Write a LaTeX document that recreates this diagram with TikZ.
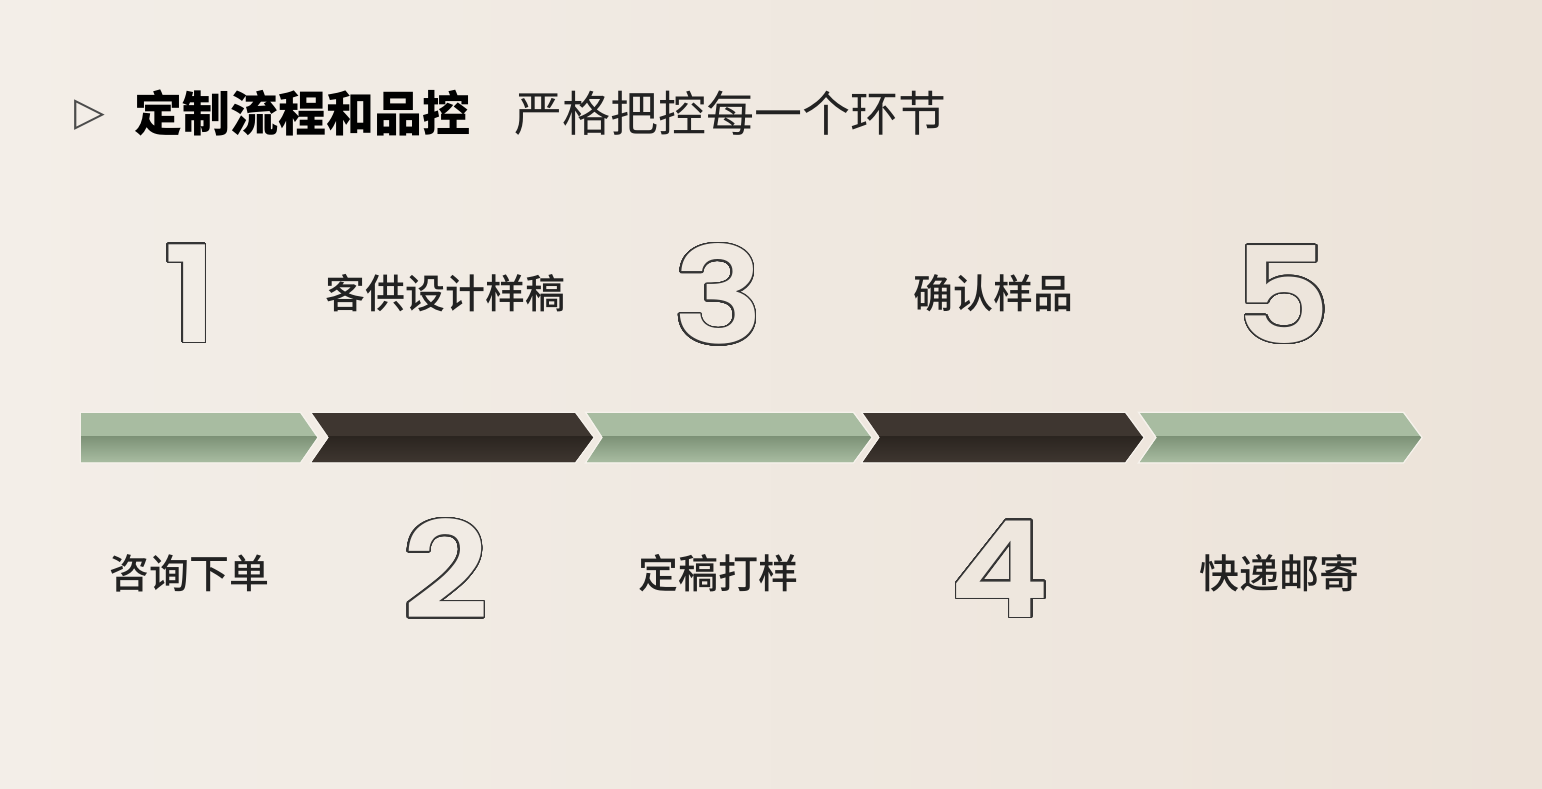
\documentclass[tikz,border=0pt]{standalone}
\usepackage{fontspec}
\usepackage[copies]{contour}
\contourlength{1.35pt}
\contournumber{48}
\newfontfamily\cjk{Noto Sans CJK SC}
\newfontfamily\cjkm{Noto Sans CJK SC}[UprightFont={* Medium}]
\newfontfamily\digitfont{Poppins}[UprightFont={* SemiBold}]
\newfontfamily\symfont{DejaVu Sans}
\definecolor{bgL}{HTML}{F3EEE8}
\definecolor{bgR}{HTML}{ECE3D9}
\definecolor{sage}{HTML}{A8BCA1}
\definecolor{sageD}{HTML}{7D9277}
\definecolor{umber}{HTML}{3E3630}
\definecolor{umberD}{HTML}{2B2520}
\definecolor{halo}{HTML}{F6F2EC}
\definecolor{ink}{HTML}{222222}
\definecolor{outl}{HTML}{353535}
\colorlet{bg1}{bgR!12!bgL}
\colorlet{bg2}{bgR!29!bgL}
\colorlet{bg3}{bgR!47!bgL}
\colorlet{bg4}{bgR!65!bgL}
\colorlet{bg5}{bgR!83!bgL}
\newcommand\chevron[6]{%
  \path[draw=halo,line width=3pt,line join=miter]
    (#1,413) -- (#3,413) -- (#4,437.5) -- (#3,462) -- (#1,462) -- (#2,437.5) -- cycle;
  \begin{scope}
    \clip (#1,413) -- (#3,413) -- (#4,437.5) -- (#3,462) -- (#1,462) -- (#2,437.5) -- cycle;
    \fill[#5] (#1-5,410) rectangle (#4+5,465);
    \shade[top color=#6,bottom color=#5] (#1-5,436.5) rectangle (#4+5,462);
  \end{scope}}
\newcommand\outlinedigit[2]{\scalebox{1.13}[1]{\contour{outl}{\textcolor{#1}{#2}}}}
\begin{document}
\begin{tikzpicture}[x=1pt,y=-1pt,
  label/.style={font=\cjkm\fontsize{40}{48}\selectfont,text=ink,inner sep=0},
  digit/.style={font=\digitfont\fontsize{134}{140}\selectfont,inner sep=0}]
\useasboundingbox (0,0) rectangle (1542,788);
\shade[left color=bgL,right color=bgR] (0,0) rectangle (1542,788);
% title
\node[font=\symfont\fontsize{40}{44}\selectfont,text=black!70,inner sep=0] (tri) at (90,115) {▷};
\node[font=\cjk\bfseries\fontsize{48}{56}\selectfont,text=black,anchor=west,inner sep=0] (title) at (134,113) {定制流程和品控};
\node[font=\cjk\fontsize{48}{56}\selectfont,text=ink,anchor=west,inner sep=0] (subtitle) at (514,113) {严格把控每一个环节};
% chevrons
\chevron{81}{81}{300}{317}{sage}{sageD}
\chevron{312}{329}{575}{593}{umber}{umberD}
\chevron{587}{603}{853}{871}{sage}{sageD}
\chevron{863}{880}{1125}{1143}{umber}{umberD}
\chevron{1140}{1157}{1403}{1421}{sage}{sageD}
% digits
\node[digit] (d1) at (190.5,294) {\outlinedigit{bg1}{1}};
\node[digit] (d2) at (445.5,569.5) {\outlinedigit{bg2}{2}};
\node[digit] (d3) at (718.5,295) {\outlinedigit{bg3}{3}};
\node[digit] (d4) at (1000,569.5) {\outlinedigit{bg4}{4}};
\node[digit] (d5) at (1282.5,295) {\outlinedigit{bg5}{5}};
% labels
\node[label] (l1) at (189.5,573) {咨询下单};
\node[label] (l2) at (445.5,293) {客供设计样稿};
\node[label] (l3) at (718,573) {定稿打样};
\node[label] (l4) at (993,293) {确认样品};
\node[label] (l5) at (1279.5,573) {快递邮寄};
\end{tikzpicture}
\end{document}
